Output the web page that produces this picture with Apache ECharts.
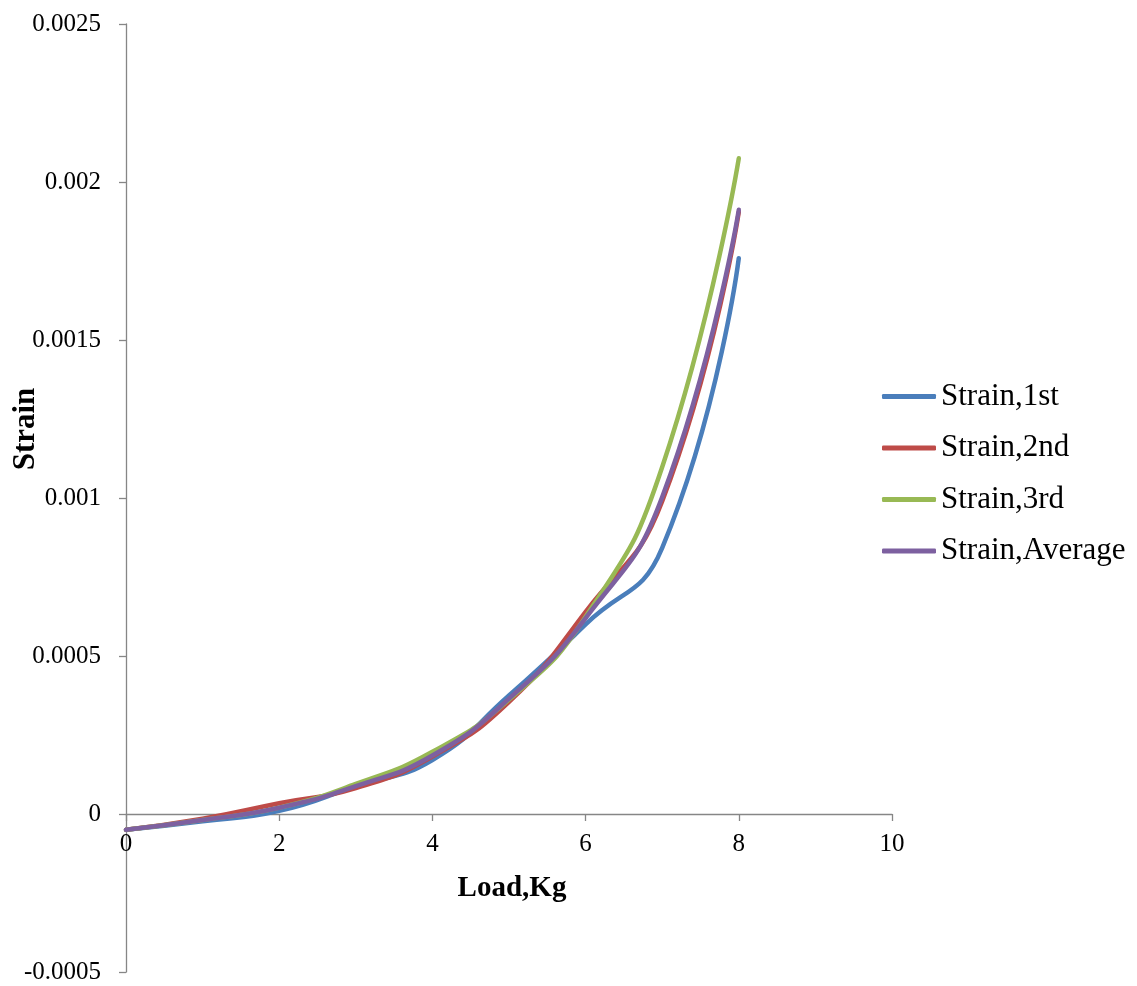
<!DOCTYPE html>
<html>
<head>
<meta charset="utf-8">
<title>Strain vs Load</title>
<script src="https://cdn.jsdelivr.net/npm/echarts@6/dist/echarts.min.js"></script>
<style>
  html, body { margin: 0; padding: 0; background: #ffffff; }
  #chart { width: 1137px; height: 986px; }
</style>
</head>
<body>
<div id="chart"></div>
<script>
// Load steps (kg)
const loads = [0, 1, 2, 3, 4, 5, 6, 7, 8];

// Measured strain for each trial, plus the average
const strain1st = [-0.000050, -0.000023, 0.000010, 0.000088, 0.000171, 0.000375, 0.000600, 0.000842, 0.001759];
const strain2nd = [-0.000050, -0.000015, 0.000034, 0.000082, 0.000182, 0.000355, 0.000640, 0.000990, 0.001905];
const strain3rd = [-0.000050, -0.000019, 0.000020, 0.000095, 0.000197, 0.000362, 0.000624, 0.001098, 0.002075];
const strainAvg = [-0.000050, -0.000019, 0.000020, 0.000088, 0.000185, 0.000365, 0.000620, 0.001003, 0.001912];

const seriesNames = ['Strain,1st', 'Strain,2nd', 'Strain,3rd', 'Strain,Average'];
const seriesColors = ['#4A7EBB', '#BE4B48', '#98B954', '#7D60A0'];
const seriesValues = [strain1st, strain2nd, strain3rd, strainAvg];

const xTitle = 'Load,Kg';
const yTitle = 'Strain';

const FONT = '"Liberation Serif", "Times New Roman", serif';
const AXIS_GREY = '#868686';

// Plot box
const W = 1137, H = 986;
const GRID = { left: 126, right: 245, top: 24, bottom: 14 };
const Y_MIN = -0.0005, Y_MAX = 0.0025;
// The load axis sits on strain = 0: lift it from the bottom edge by that share of the plot height
const xAxisLift = (H - GRID.top - GRID.bottom) * (0 - Y_MIN) / (Y_MAX - Y_MIN);

const chart = echarts.init(document.getElementById('chart'));

const series = seriesNames.map((name, i) => ({
  name: name,
  type: 'line',
  smooth: 0.5,
  showSymbol: false,
  symbol: 'none',
  data: loads.map((x, j) => [x, seriesValues[i][j]]),
  lineStyle: { width: 4.5, color: seriesColors[i], cap: 'round', join: 'round' },
  itemStyle: { color: seriesColors[i] },
  z: 2 + i
}));

chart.setOption({
  animation: false,
  backgroundColor: '#ffffff',
  grid: Object.assign({ containLabel: false, outerBoundsMode: 'none' }, GRID),
  xAxis: {
    type: 'value',
    min: 0, max: 10, interval: 2,
    offset: -xAxisLift,
    axisLine: { onZero: false, lineStyle: { color: AXIS_GREY, width: 1.3 } },
    axisTick: { show: true, inside: false, length: 7, lineStyle: { color: AXIS_GREY, width: 1.3 } },
    axisLabel: { color: '#000', fontFamily: FONT, fontSize: 25, margin: 18 },
    splitLine: { show: false }
  },
  yAxis: {
    type: 'value',
    min: Y_MIN, max: Y_MAX, interval: 0.0005,
    axisLine: { show: true, lineStyle: { color: AXIS_GREY, width: 1.3 } },
    axisTick: { show: true, inside: false, length: 7, lineStyle: { color: AXIS_GREY, width: 1.3 } },
    axisLabel: {
      color: '#000', fontFamily: FONT, fontSize: 25, margin: 25,
      formatter: v => String(parseFloat(v.toFixed(4)))
    },
    splitLine: { show: false }
  },
  legend: {
    orient: 'vertical',
    left: 882,
    top: 381,
    padding: 0,
    icon: 'roundRect',
    itemWidth: 54,
    itemHeight: 5,
    itemGap: 20.5,
    textStyle: { color: '#000', fontFamily: FONT, fontSize: 31, lineHeight: 31, padding: [0, 0, 0, 0] },
    data: seriesNames
  },
  graphic: [
    {
      type: 'text',
      x: 512, y: 889,
      style: {
        text: xTitle, x: 0, y: 0, align: 'center', verticalAlign: 'middle',
        font: 'bold 29px ' + FONT, fill: '#000'
      }
    },
    {
      type: 'text',
      x: 26, y: 429,
      rotation: Math.PI / 2,
      style: {
        text: yTitle, x: 0, y: 0, align: 'center', verticalAlign: 'middle',
        font: 'bold 31px ' + FONT, fill: '#000'
      }
    }
  ],
  series: series
});
</script>
</body>
</html>
